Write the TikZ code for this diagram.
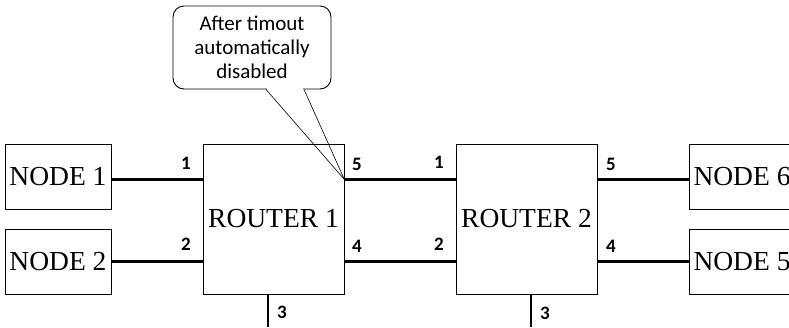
\documentclass[tikz,border=0pt]{standalone}
\usepackage{fontspec}
\setmainfont{Liberation Serif}
\newfontfamily\lblfont{Carlito}
\begin{document}
\begin{tikzpicture}[x=1pt,y=-1pt,
  box/.style={draw, line width=0.9pt, inner sep=0pt, font=\fontsize{27.5}{30}\selectfont},
  nodebox/.style={box, minimum width=106pt, minimum height=65pt},
  routerbox/.style={box, minimum width=141pt, minimum height=150pt},
  link/.style={line width=2.4pt},
  port/.style={font=\lblfont\bfseries\fontsize{19}{22}\selectfont, inner sep=0pt},
  callbox/.style={draw, line width=0.9pt, rounded corners=11pt, minimum width=158pt, minimum height=83pt, align=center, inner sep=0pt, font=\lblfont\fontsize{21}{24}\selectfont},
  wedge/.style={line width=0.6pt}
  ]
\useasboundingbox (0,0) rectangle (789,327);
% nodes
\node[nodebox] (n1) at (58,176.5) {NODE 1};
\node[nodebox] (n2) at (58,261.5) {NODE 2};
\node[routerbox] (r1) at (273.5,219) {ROUTER 1};
\node[routerbox] (r2) at (526.5,219) {ROUTER 2};
\node[nodebox] (n6) at (742,176.5) {NODE 6};
\node[nodebox] (n5) at (742,261.5) {NODE 5};
% ports
\path (r1.north west) ++(0,36) coordinate (r1p1);
\path (r1.north west) ++(0,118) coordinate (r1p2);
\path (r1.north east) ++(0,36) coordinate (r1p5);
\path (r1.north east) ++(0,118) coordinate (r1p4);
\path (r1.south) ++(-5.5,0) coordinate (r1p3);
\path (r2.north west) ++(0,36) coordinate (r2p1);
\path (r2.north west) ++(0,118) coordinate (r2p2);
\path (r2.north east) ++(0,36) coordinate (r2p5);
\path (r2.north east) ++(0,118) coordinate (r2p4);
\path (r2.south) ++(4.5,0) coordinate (r2p3);
\coordinate (e1) at (268,327);
\coordinate (e2) at (531,327);
% links
\draw[link] (r1p1 -| n1.east) -- (r1p1);
\draw[link] (r1p2 -| n2.east) -- (r1p2);
\draw[link] (r1p5) -- (r2p1);
\draw[link] (r1p4) -- (r2p2);
\draw[link] (r2p5) -- (r2p5 -| n6.west);
\draw[link] (r2p4) -- (r2p4 -| n5.west);
\draw[link] (r1p3) -- (e1);
\draw[link] (r2p3) -- (e2);
% port labels
\node[port] (l11) at (186,163) {1};
\node[port] (l12) at (186,244) {2};
\node[port] (l15) at (357,164) {5};
\node[port] (l14) at (357,246) {4};
\node[port] (l13) at (282,312) {3};
\node[port] (l21) at (439,162) {1};
\node[port] (l22) at (439,244) {2};
\node[port] (l25) at (611,164) {5};
\node[port] (l24) at (611,246) {4};
\node[port] (l23) at (545,313) {3};
% callout
\node[callbox] (call) at (252,47.5) {After timout\\automatically\\disabled};
\fill[white] ([xshift=14.6pt,yshift=1.2pt]call.south) rectangle ([xshift=51.4pt,yshift=-1.2pt]call.south);
\draw[wedge] ([xshift=14pt]call.south) -- (r1p5) -- ([xshift=52pt]call.south);
\end{tikzpicture}
\end{document}
